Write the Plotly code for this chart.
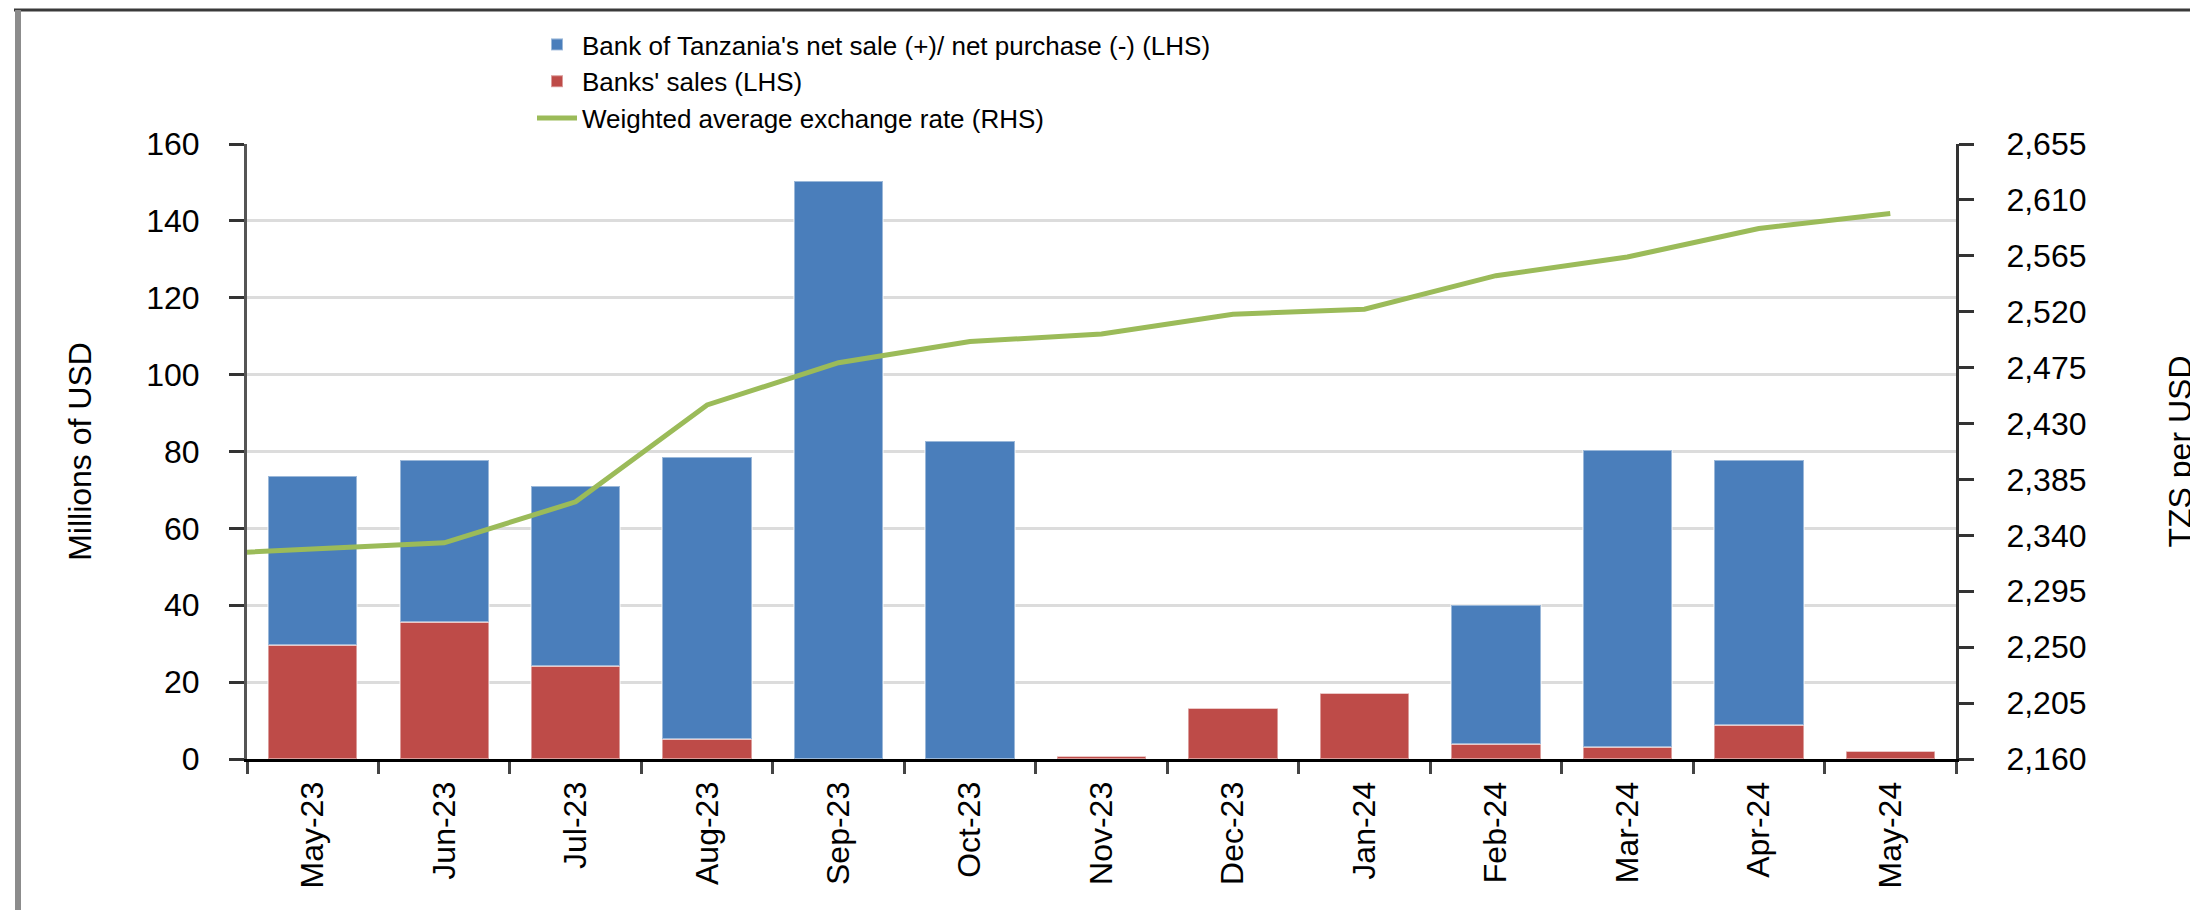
import plotly.graph_objects as go

# ---- data ----
months = ["May-23", "Jun-23", "Jul-23", "Aug-23", "Sep-23", "Oct-23", "Nov-23",
          "Dec-23", "Jan-24", "Feb-24", "Mar-24", "Apr-24", "May-24"]
banks_sales = [29.6, 35.6, 24.3, 5.1, 0.0, 0.0, 0.7, 13.2, 17.3, 3.9, 3.2, 8.8, 2.0]
bot_net_sale = [44.1, 42.3, 46.8, 73.4, 150.5, 82.8, 0.0, 0.0, 0.0, 36.1, 77.1, 69.1, 0.0]

# exchange-rate series (includes the preceding month, which falls just outside the axis)
rate_months = ["Apr-23"] + months
rate = [2324, 2329, 2334, 2367, 2445, 2479, 2496, 2502, 2518, 2522, 2549, 2564, 2587, 2599]

left_ticks = list(range(0, 161, 20))
right_ticks = list(range(2160, 2656, 45))

BLUE = "#4A7EBB"
RED = "#BE4B48"
GREEN = "#9BBB59"
FONT = "Liberation Sans, Arial, sans-serif"

fig = go.Figure()
fig.add_trace(go.Bar(
    x=months, y=banks_sales, name="Banks' sales (LHS)",
    marker=dict(color=RED, line=dict(color="rgba(255,255,255,0.45)", width=2)),
    width=0.68, legendrank=2,
))
fig.add_trace(go.Bar(
    x=months, y=bot_net_sale,
    name="Bank of Tanzania's net sale (+)/ net purchase (-) (LHS)",
    marker=dict(color=BLUE, line=dict(color="rgba(255,255,255,0.45)", width=2)),
    width=0.68, legendrank=1,
))
fig.add_trace(go.Scatter(
    x=rate_months, y=rate, name="Weighted average exchange rate (RHS)",
    mode="lines", line=dict(color=GREEN, width=5), yaxis="y2", legendrank=3,
))

# page has an 8px body margin, so the figure is drawn 8px in from the top-left
OFF = 8
W, H = 2198 - OFF, 910 - OFF
L, R, T, B = 247 - OFF, 242, 144 - OFF, 151
pw = W - L - R
ph = H - T - B

def px_x(px):  # px in figure coordinates
    return (px - L) / pw

def px_y(py):
    return (H - B - py) / ph

fig.update_layout(
    width=W, height=H,
    margin=dict(l=L, r=R, t=T, b=B, autoexpand=False),
    paper_bgcolor="white", plot_bgcolor="white",
    barmode="stack",
    font=dict(family=FONT, size=32, color="black"),
    showlegend=True,
    legend=dict(
        x=px_x(524), y=px_y(13), xanchor="left", yanchor="top",
        font=dict(family=FONT, size=26, color="black"),
        bgcolor="rgba(0,0,0,0)", tracegroupgap=0, itemwidth=40,
        traceorder="normal",
    ),
    xaxis=dict(
        type="category", categoryorder="array", categoryarray=rate_months,
        range=[0.5, 13.5], tickson="boundaries",
        showline=True, linecolor="black", linewidth=3,
        ticks="outside", ticklen=12, tickwidth=3, tickcolor="#444",
        tickangle=-90, tickfont=dict(family=FONT, size=32, color="black"),
        ticklabelstandoff=7, showgrid=False, fixedrange=True,
    ),
    yaxis=dict(
        range=[0, 160], tickvals=left_ticks,
        showgrid=True, gridcolor="#DCDCDC", gridwidth=2.5,
        zeroline=False,
        showline=True, linecolor="#555555", linewidth=3,
        ticks="outside", ticklen=15, tickwidth=3, tickcolor="#333",
        tickfont=dict(family=FONT, size=32, color="black"),
        ticklabelstandoff=23,
        title=dict(text="Millions of USD", font=dict(family=FONT, size=32, color="black"), standoff=46),
    ),
    yaxis2=dict(
        range=[2160, 2655], tickvals=right_ticks, tickformat=",d",
        overlaying="y", side="right", showgrid=False, zeroline=False,
        showline=True, linecolor="#333333", linewidth=3,
        ticks="outside", ticklen=15, tickwidth=3, tickcolor="#333",
        tickfont=dict(family=FONT, size=32, color="black"),
        ticklabelstandoff=26,
        title=dict(text="TZS per USD", font=dict(family=FONT, size=32, color="black"), standoff=86),
    ),
    shapes=[
        dict(type="line", xref="paper", yref="paper",
             x0=px_x(14 - OFF), x1=px_x(W), y0=px_y(10 - OFF), y1=px_y(10 - OFF),
             line=dict(color="#3a3a3a", width=3)),
        dict(type="line", xref="paper", yref="paper",
             x0=px_x(18 - OFF), x1=px_x(18 - OFF), y0=px_y(10 - OFF), y1=px_y(H),
             line=dict(color="#8c8c8c", width=6)),
    ],
)

fig.write_html("out.html")
